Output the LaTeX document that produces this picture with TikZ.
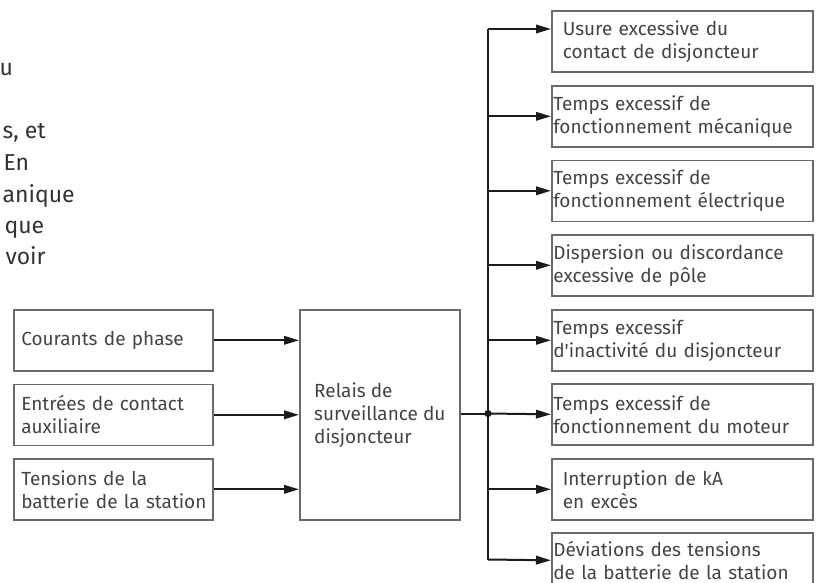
\documentclass[tikz,border=0pt]{standalone}
\usepackage{fontspec}
\setmainfont{Fira Sans}
\usetikzlibrary{arrows.meta}
\definecolor{txt}{HTML}{444444}
\definecolor{frame}{HTML}{6A6A6A}
\definecolor{ln}{HTML}{1E1A1A}
\newcommand\oneline[1]{\mbox{#1}}
\begin{document}
\begin{tikzpicture}[x=1pt,y=-1pt,
  every node/.style={font=\fontsize{19}{23}\selectfont, text=txt},
  box/.style={draw=frame, line width=1.6pt, minimum height=61pt, align=left, inner ysep=0pt, anchor=north west},
  lbox/.style={box, inner xsep=7.5pt, text width=184pt},
  rbox/.style={box, inner xsep=1.5pt, text width=258pt},
  rboxi/.style={box, inner xsep=11pt, text width=239pt},
  arr/.style={draw=ln, line width=2pt, -{Triangle[length=15pt,width=8.5pt]}},
  wire/.style={draw=ln, line width=2pt},
  frag/.style={anchor=base west, font=\fontsize{23}{32}\selectfont, text=black!80}]
\useasboundingbox (0,0) rectangle (817,582);
% fragments of running text at the left edge
\node[frag] (f1) at (-4,75) {u};
\node[frag] (f2) at (-1,138) {s, et};
\node[frag] (f3) at (0,170) {En};
\node[frag] (f4) at (-1,202) {anique};
\node[frag] (f5) at (1,233) {que};
\node[frag] (f6) at (2,264) {voir};
% left inputs
\node[lbox] (l1) at (13,309) {\oneline{Courants de phase}};
\node[lbox] (l2) at (13,383.5) {\oneline{Entrées de contact}\\\oneline{auxiliaire}};
\node[lbox] (l3) at (13,458) {\oneline{Tensions de la}\\\oneline{batterie de la station}};
% relay
\node[box, minimum height=210pt, minimum width=160pt, inner xsep=8pt] (relay) at (299,309) {Relais de\\surveillance du\\disjoncteur};
% outputs
\node[rboxi] (r1) at (551,10) {\oneline{Usure excessive du}\\\oneline{contact de disjoncteur}};
\node[rbox] (r2) at (551,85) {\oneline{Temps excessif de}\\\oneline{fonctionnement mécanique}};
\node[rbox] (r3) at (551,159.5) {\oneline{Temps excessif de}\\\oneline{fonctionnement électrique}};
\node[rbox] (r4) at (551,234) {\oneline{Dispersion ou discordance}\\\oneline{excessive de pôle}};
\node[rbox] (r5) at (551,309) {\oneline{Temps excessif}\\\oneline{d\textquotesingle inactivité du disjoncteur}};
\node[rbox] (r6) at (551,383) {\oneline{Temps excessif de}\\\oneline{fonctionnement du moteur}};
\node[rboxi] (r7) at (551,458) {\oneline{Interruption de kA}\\\oneline{en excès}};
\node[rbox, minimum height=55pt] (r8) at (551,532) {\oneline{Déviations des tensions}\\\oneline{de la batterie de la station}};
% bus
\coordinate (btop) at (488,29);
\coordinate (bbot) at (488,559.5);
\coordinate (jn) at (488,413.5);
\draw[wire] (btop) -- (bbot);
\fill[ln] (jn) circle (3.6pt);
\draw[wire] (relay.east |- jn) -- (jn);
% input arrows
\draw[arr] (l1.east) -- (l1.east -| relay.west);
\draw[arr] (l2.east) -- (l2.east -| relay.west);
\draw[arr] (l3.east) -- (l3.east -| relay.west);
% output arrows
\draw[arr] (btop) -- (btop -| r1.west);
\draw[arr] (r2.west -| btop) -- (r2.west);
\draw[arr] (r3.west -| btop) -- (r3.west);
\draw[arr] (r4.west -| btop) -- (r4.west);
\draw[arr] (r5.west -| btop) -- (r5.west);
\draw[arr] (jn) -- (r6.west);
\draw[arr] (r7.west -| btop) -- (r7.west);
\draw[arr] (bbot) -- (r8.west);
\end{tikzpicture}
\end{document}
